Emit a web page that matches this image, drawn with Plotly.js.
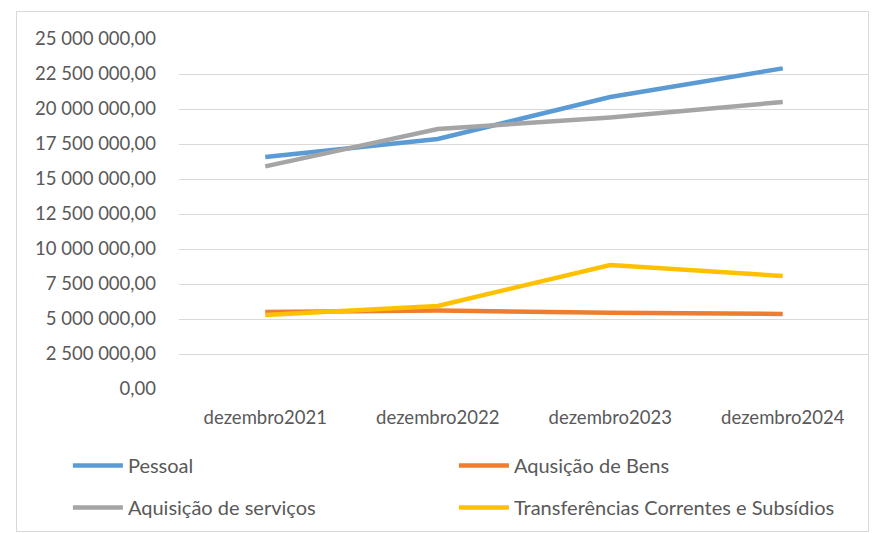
<!DOCTYPE html>
<html>
<head>
<meta charset="utf-8">
<script src="https://cdn.plot.ly/plotly-3.0.1.min.js"></script>
<style>
  body { margin: 0; background: #fff; }
  #wrap { position: relative; width: 876px; height: 533px; }
  #chart { width: 876px; height: 533px; }
  #frame { position: absolute; left: 16px; top: 11px; width: 851px; height: 519px;
           border: 1px solid #d9d9d9; pointer-events: none; }
</style>
</head>
<body>
<div id="wrap">
  <div id="chart"></div>
  <div id="frame"></div>
</div>
<script>
// categorias e valores
var anos = ["dezembro2021", "dezembro2022", "dezembro2023", "dezembro2024"];

var pessoal = [16570000, 17860000, 20860000, 22900000];
var aquisicaoBens = [5500000, 5600000, 5450000, 5360000];
var aquisicaoServicos = [15900000, 18570000, 19400000, 20500000];
var transferencias = [5290000, 5930000, 8860000, 8070000];

var fonte = { family: "Lato, sans-serif", size: 18.5, color: "#595959" };
var fonteLegenda = { family: "Lato, sans-serif", size: 20, color: "#595959" };

function linha(nome, y, cor, leg) {
    return {
        x: anos,
        y: y,
        name: nome,
        type: "scatter",
        mode: "lines",
        line: { color: cor, width: 4.5 },
        legend: leg
    };
}

var data = [
    linha("Pessoal", pessoal, "#5B9BD5", "legend"),
    linha("Aqusição de Bens", aquisicaoBens, "#ED7D31", "legend"),
    linha("Aquisição de serviços", aquisicaoServicos, "#A5A5A5", "legend2"),
    linha("Transferências Correntes e Subsídios", transferencias, "#FFC000", "legend2")
];

var legendaBase = {
    orientation: "h",
    xanchor: "left",
    yanchor: "top",
    x: -0.161,
    itemwidth: 50,
    entrywidth: 321,
    entrywidthmode: "pixels",
    font: fonteLegenda,
    bgcolor: "rgba(0,0,0,0)",
    traceorder: "normal"
};

var layout = {
    width: 876,
    height: 533,
    margin: { l: 179, r: 7, t: 39, b: 144, autoexpand: false },
    paper_bgcolor: "#fff",
    plot_bgcolor: "#fff",
    font: fonte,
    separators: ", ",
    showlegend: true,
    xaxis: {
        type: "category",
        range: [-0.5, 3.5],
        showgrid: false,
        zeroline: false,
        showline: false,
        ticks: "",
        ticklabelstandoff: 15,
        tickfont: fonte,
        fixedrange: true
    },
    yaxis: {
        range: [0, 25000000],
        dtick: 2500000,
        tickformat: ",.2f",
        showgrid: true,
        gridcolor: "#D9D9D9",
        gridwidth: 1,
        zeroline: false,
        showline: false,
        ticks: "",
        ticklabelstandoff: 22,
        tickfont: fonte,
        fixedrange: true
    },
    legend: Object.assign({}, legendaBase, { y: -0.163 }),
    legend2: Object.assign({}, legendaBase, { y: -0.283 })
};

Plotly.newPlot("chart", data, layout, { displayModeBar: false, staticPlot: true }).then(function (gd) {
    // linhas da legenda mais compridas, como no Excel
    gd.querySelectorAll(".legendlines path").forEach(function (p) {
        p.setAttribute("d", "M5,0h50");
    });
});
</script>
</body>
</html>
